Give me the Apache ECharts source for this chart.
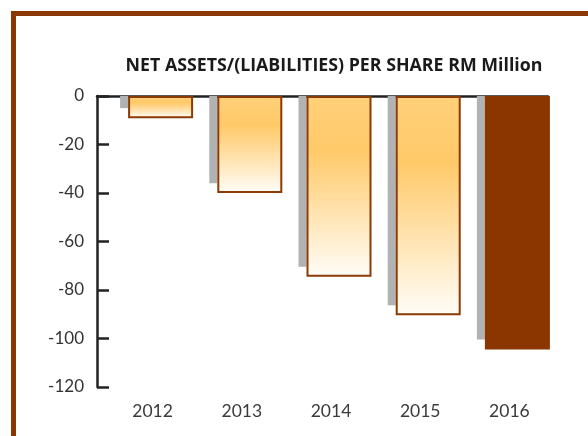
<!DOCTYPE html>
<html>
<head>
<meta charset="utf-8">
<script src="https://cdn.jsdelivr.net/npm/echarts@6/dist/echarts.min.js"></script>
<style>
    html, body { margin: 0; padding: 0; background: #fff; }
    .frame {
        position: absolute;
        left: 11px;
        top: 11px;
        width: 577px;
        height: 425px;
        border-top: 5px solid #8b3800;
        border-left: 5px solid #8b3800;
        box-sizing: border-box;
    }
    #chart { position: absolute; left: 0; top: 0; width: 588px; height: 436px; }
</style>
</head>
<body>
<div class="frame"></div>
<div id="chart"></div>
<script>
const years = ['2012', '2013', '2014', '2015', '2016']
const netAssets = [-9.2, -40, -74.5, -90.4, -104.5]
const shadowValues = [-5, -36, -70.4, -86.3, -100.4]
const yTicks = [0, -20, -40, -60, -80, -100, -120]

const chart = echarts.init(document.getElementById('chart'))

const orangeFill = new echarts.graphic.LinearGradient(0, 0, 0, 1, [
    { offset: 0, color: '#ffd07a' },
    { offset: 0.3, color: '#ffc968' },
    { offset: 1, color: '#fffdf8' },
])

const option = {
    animation: false,
    title: {
        text: 'NET ASSETS/(LIABILITIES) PER SHARE RM Million',
        left: 329,
        top: 52,
        textAlign: 'center',
        textStyle: {
            fontFamily: 'Open Sans',
            fontWeight: 'bold',
            fontSize: 17.8,
            color: '#1a1a1a',
        },
    },
    grid: [
        { left: 112, right: 30, top: 96, bottom: 49 },
        { left: 97, right: 40, top: 96, bottom: 49 },
    ],
    xAxis: [
        {
            type: 'category',
            gridIndex: 0,
            data: years,
            position: 'bottom',
            axisLine: { show: false },
            axisTick: { show: false },
            axisLabel: {
                margin: 15,
                padding: [0, 8, 0, 0],
                fontFamily: 'Lato',
                fontSize: 17.5,
                color: '#3a3a3a',
            },
        },
        {
            type: 'category',
            gridIndex: 1,
            data: years,
            position: 'top',
            axisLine: { onZero: false, lineStyle: { color: '#222', width: 2.5 } },
            axisTick: { show: false },
            axisLabel: { show: false },
        },
    ],
    yAxis: [
        {
            type: 'value',
            gridIndex: 0,
            min: -120,
            max: 0,
            interval: 20,
            show: false,
        },
        {
            type: 'value',
            gridIndex: 1,
            min: -120,
            max: 0,
            interval: 20,
            axisLine: { show: true, lineStyle: { color: '#222', width: 2.5 } },
            axisTick: { show: true, inside: true, length: 12, lineStyle: { color: '#222', width: 2.5 } },
            splitLine: { show: false },
            axisLabel: {
                margin: 13,
                fontFamily: 'Lato',
                fontSize: 17,
                color: '#333',
                formatter: (v) => (yTicks.includes(v) ? String(v) : ''),
            },
        },
    ],
    series: [
        {
            type: 'bar',
            xAxisIndex: 0,
            yAxisIndex: 0,
            data: shadowValues,
            barWidth: 8,
            barGap: '0%',
            itemStyle: { color: '#b1b2b4' },
        },
        {
            type: 'bar',
            xAxisIndex: 0,
            yAxisIndex: 0,
            data: netAssets.map((v, i) => ({
                value: v,
                itemStyle: i === netAssets.length - 1
                    ? { color: '#8b3600', borderWidth: 0 }
                    : { color: orangeFill, borderColor: '#8b3a05', borderWidth: 2 },
            })),
            barWidth: 65,
            barGap: '0%',
        },
    ],
}

chart.setOption(option)
</script>
</body>
</html>
